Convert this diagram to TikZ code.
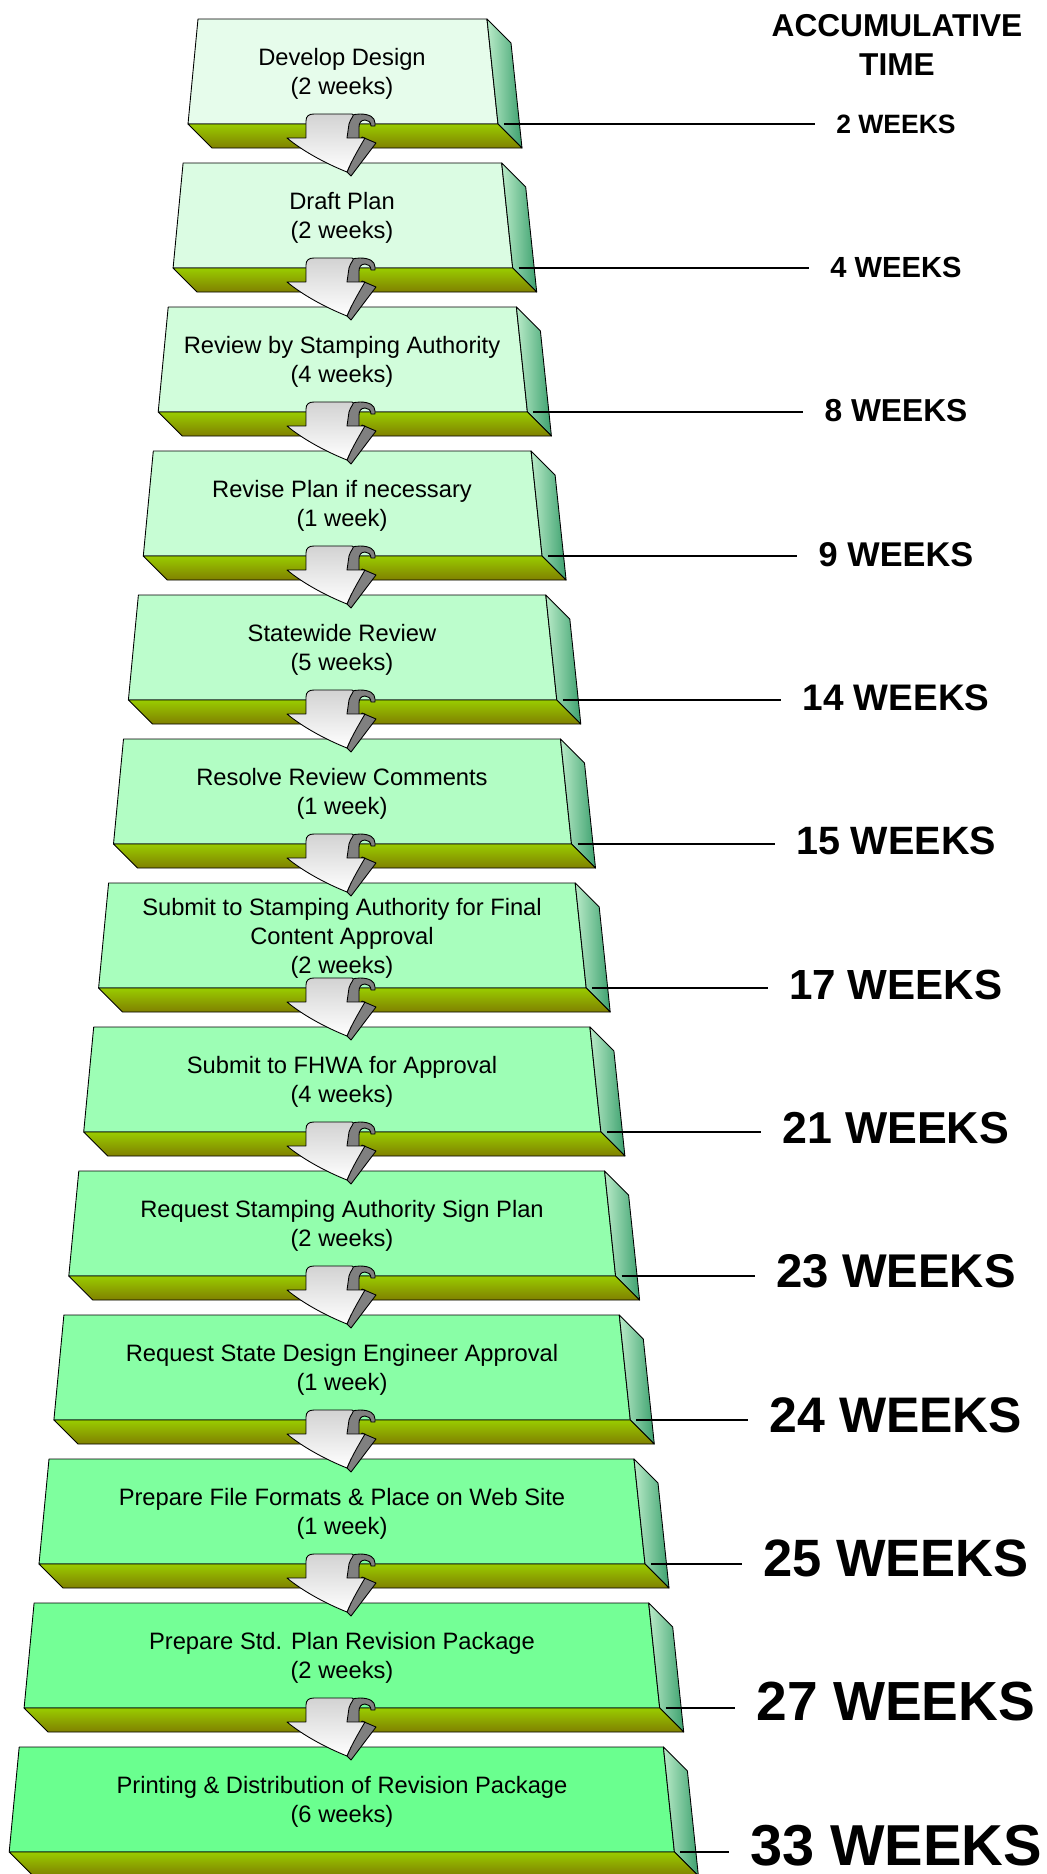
\documentclass[tikz,border=0pt]{standalone}
\usepackage{fontspec}
\setmainfont{Liberation Sans}
\definecolor{bandtop}{RGB}{153,204,0}
\definecolor{bandbot}{RGB}{128,128,0}
\definecolor{facetop}{RGB}{230,252,235}
\definecolor{facebot}{RGB}{106,255,143}
\definecolor{sidelight}{RGB}{185,235,200}
\definecolor{sidedark}{RGB}{60,160,110}
\definecolor{arrowdark}{RGB}{128,128,128}
\tikzstyle{outline}=[draw=black,line width=0.5pt,line join=round]
\tikzstyle{bandface}=[outline,top color=bandtop,bottom color=bandbot]
\tikzstyle{sideface}=[outline,left color=sidelight,right color=sidedark]
\tikzstyle{arrowside}=[outline,fill=arrowdark]
\tikzstyle{arrowface}=[outline,top color=gray!35,bottom color=white]
\tikzstyle{steptext}=[align=center,font=\fontsize{13.5}{16.5}\selectfont]
\tikzstyle{timetext}=[inner xsep=12pt,inner ysep=0pt]
\tikzstyle{leader}=[line width=0.6pt]

\begin{document}
\begin{tikzpicture}[x=0.02cm,y=-0.02cm]
  \useasboundingbox (0,0) rectangle (1047,1874);

  \node[align=center,font=\fontsize{18}{22.5}\selectfont\bfseries] (head) at (897,45)
    {ACCUMULATIVE\\TIME};

  % steps
  \foreach \txt/\wk [count=\i from 0] in {
      {Develop Design\\(2 weeks)}/2,
      {Draft Plan\\(2 weeks)}/4,
      {Review by Stamping Authority\\(4 weeks)}/8,
      {Revise Plan if necessary\\(1 week)}/9,
      {Statewide Review\\(5 weeks)}/14,
      {Resolve Review Comments\\(1 week)}/15,
      {Submit to Stamping Authority for Final\\Content Approval\\(2 weeks)}/17,
      {Submit to FHWA for Approval\\(4 weeks)}/21,
      {Request Stamping Authority Sign Plan\\(2 weeks)}/23,
      {Request State Design Engineer Approval\\(1 week)}/24,
      {Prepare File Formats \& Place on Web Site\\(1 week)}/25,
      {Prepare Std. Plan Revision Package\\(2 weeks)}/27,
      {Printing \& Distribution of Revision Package\\(6 weeks)}/33}{
    \pgfmathsetmacro\yt{19+144*\i}
    \pgfmathsetmacro\xl{198-14.9*\i}
    \pgfmathsetmacro\xr{487+14.7*\i}
    \pgfmathtruncatemacro\pct{100*(12-\i)/12}
    \pgfmathsetmacro\fs{15.1+1.48*\i}
    \colorlet{stepface}{facetop!\pct!facebot}

    \draw[outline,fill=stepface] (\xl,\yt) -- (\xr,\yt) -- (\xr+11,\yt+105)
      -- (\xl-10,\yt+105) -- cycle;
    \draw[sideface] (\xr,\yt) -- (\xr+24,\yt+24) -- (\xr+35,\yt+129)
      -- (\xr+11,\yt+105) -- cycle;
    \draw[bandface] (\xl-10,\yt+105) -- (\xr+11,\yt+105) -- (\xr+35,\yt+129)
      -- (\xl+14,\yt+129) -- cycle;

    \node[steptext] (step\i) at (342,\yt+55) {\txt};
    \coordinate (corner\i) at (\xr+17,\yt+105);
    \node[timetext,font=\fontsize{\fs}{\fs}\selectfont\bfseries] (time\i)
      at (896,\yt+105-0.55*\i) {\wk{} WEEKS};
    \draw[leader] (corner\i) -- (time\i.west |- corner\i);
  }

  % turn arrows
  \foreach \i in {0,...,11}{
    \pgfmathsetmacro\yb{124+144*\i}
    \begin{scope}[shift={(342,\yb)}]
      \draw[arrowside] (4,18) -- (5,-3) .. controls (6,-8) and (11,-10) .. (18,-10)
        .. controls (27,-10) and (33,-7) .. (33,-1) -- (33,2) -- (29,2)
        .. controls (29,-2) and (26,-4) .. (23,-4)
        .. controls (19,-4) and (17,-1) .. (17,3) -- (17,16) -- cycle;
      \draw[arrowside] (20,13) -- (34,19) -- (9,52) -- (5,48) -- cycle;
      \draw[arrowface] (-55,14) -- (-36,14) -- (-36,-3)
        .. controls (-36,-8) and (-33,-10) .. (-28,-10) -- (10,-10)
        .. controls (14,-10) and (8,-5) .. (7,0) -- (5,14) -- (23,14)
        .. controls (16,26) and (9,38) .. (5,48)
        .. controls (-15,40) and (-38,28) .. (-55,14) -- cycle;
    \end{scope}
  }
\end{tikzpicture}
\end{document}
